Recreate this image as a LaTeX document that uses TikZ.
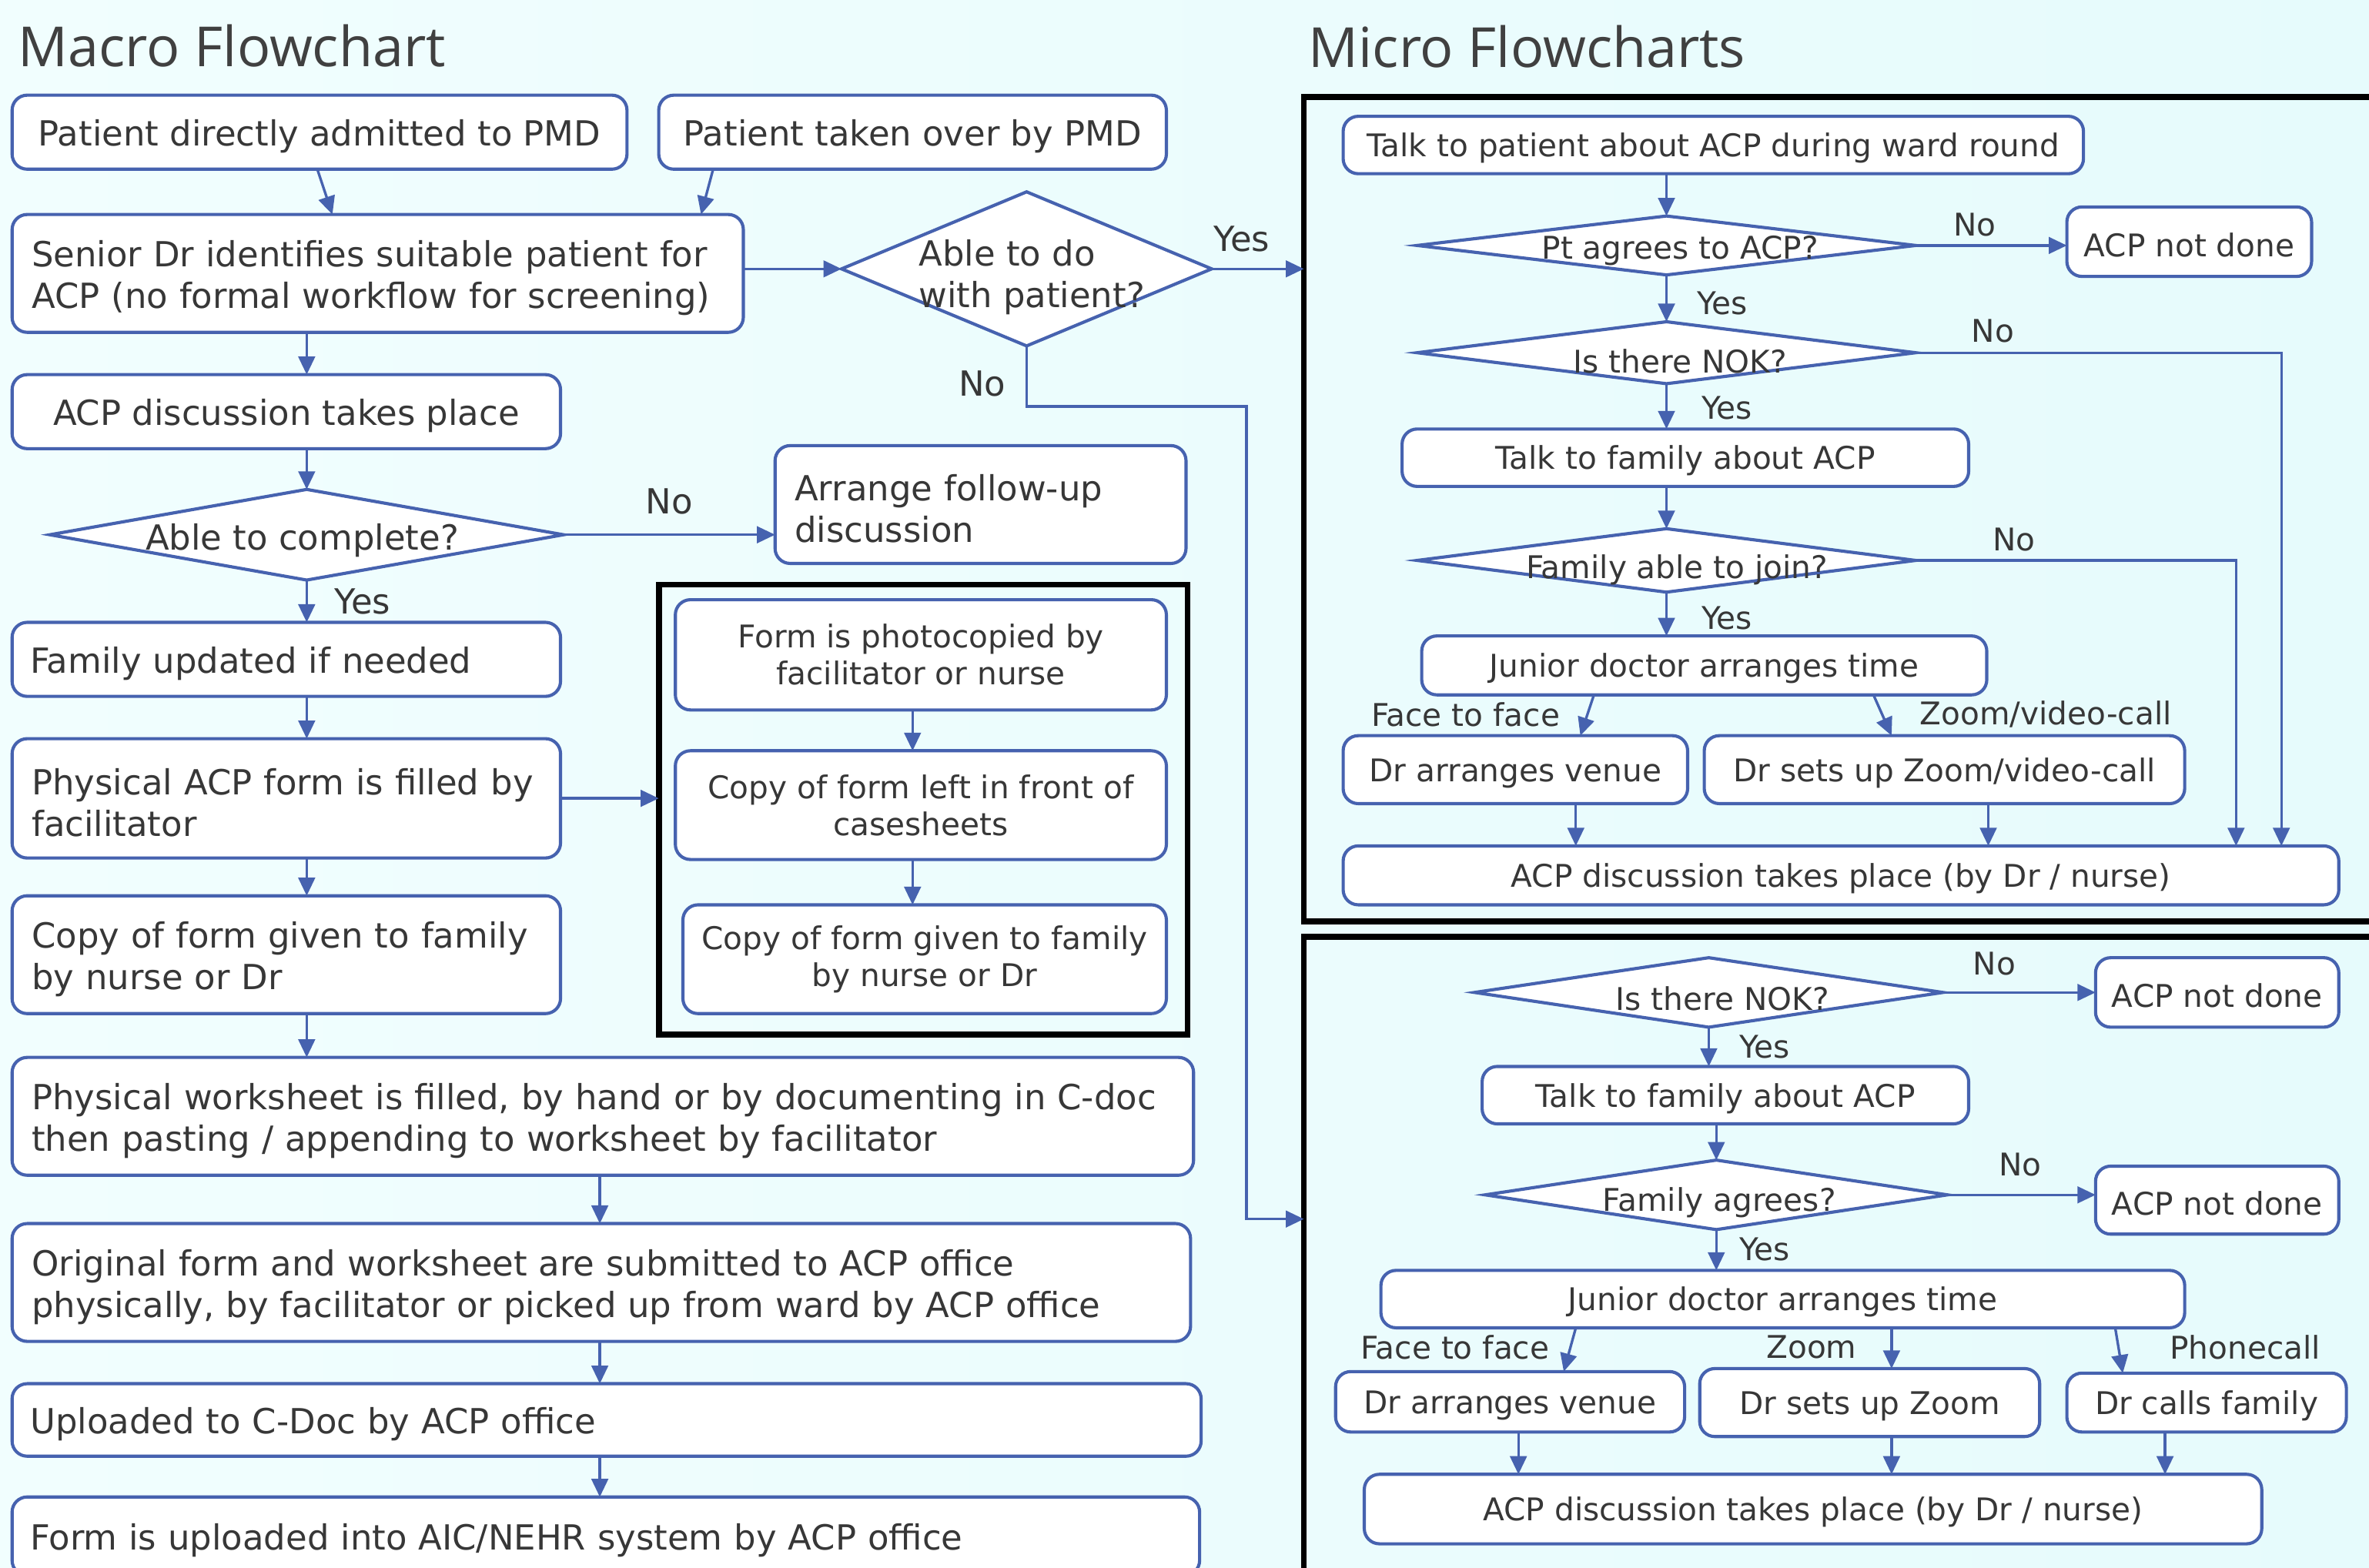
\documentclass[tikz,border=0pt]{standalone}
\usepackage{fontspec}
\setmainfont{DejaVu Sans}
\newfontfamily\ttlfam{Open Sans}
\usetikzlibrary{arrows.meta,shapes.geometric}
\definecolor{acpblue}{RGB}{70,98,175}
\definecolor{txtgray}{RGB}{55,55,55}
\definecolor{bgleft}{RGB}{241,254,254}
\definecolor{bgright}{RGB}{230,251,252}
\newcommand\macrotxt{\fontsize{22.9}{27.5}\selectfont}
\newcommand\microtxt{\fontsize{20.7}{24.5}\selectfont}
\newcommand\ttltxt{\ttlfam\fontsize{36.6}{40}\selectfont}
\newcommand\mstrut{\rule{0pt}{23.2pt}}
\newcommand\sstrut{\rule{0pt}{19.9pt}}
\begin{document}
\begin{tikzpicture}[x=1pt,y=-1pt,
  box/.style={draw=acpblue, line width=2.1pt, fill=white, rounded corners=10pt,
    text=txtgray, inner sep=0pt, outer sep=0pt},
  mbox/.style={box, font=\macrotxt, align=center, execute at begin node=\mstrut},
  sbox/.style={box, font=\microtxt, align=center, execute at begin node=\sstrut},
  lbox/.style={box, font=\macrotxt, align=left, execute at begin node=\mstrut},
  dia/.style={diamond, draw=acpblue, line width=2.1pt, fill=white, inner sep=0pt, outer sep=0pt},
  arr/.style={draw=acpblue, line width=1.7pt, -{Triangle[length=12pt,width=11pt]}},
  frm/.style={draw=black, line width=4pt, inner sep=0pt, outer sep=0pt},
  lbl/.style={text=txtgray, inner sep=0pt, font=\macrotxt},
  slbl/.style={text=txtgray, inner sep=0pt, font=\microtxt},
  ttl/.style={text={rgb,255:red,64;green,64;blue,64}, inner sep=0pt, font=\ttltxt, anchor=base west}
]
\useasboundingbox (0,0) rectangle (1568,1038);
\clip (0,0) rectangle (1568,1038);
\shade[left color=bgleft, right color=bgright] (0,0) rectangle (1568,1038);

% ---------- titles
\node[ttl] (tmacro) at (12,44) {Macro Flowchart};
\node[ttl] (tmicro) at (866,44.7) {Micro Flowcharts};

% ---------- macro flowchart
\node[mbox, minimum width=407pt, minimum height=49pt] (A) at (211.5,87.5) {Patient directly admitted to PMD};
\node[mbox, minimum width=336pt, minimum height=49pt] (B) at (604,87.5) {Patient taken over by PMD};
\node[lbox, minimum width=484pt, minimum height=78pt, text width=458pt] (C) at (250,181)
  {Senior Dr identifies suitable patient for\\ACP (no formal workflow for screening)};
\node[dia, minimum width=245pt, minimum height=102pt] (D) at (679.5,178) {};
\node[lbl, align=left, anchor=west] (Dt) at (608,183.5) {Able to do\\with patient?};
\node[mbox, minimum width=363pt, minimum height=49pt] (E) at (189.5,272.5) {ACP discussion takes place};
\node[dia, minimum width=340pt, minimum height=60pt] (F) at (203,354) {};
\node[lbl] (Ft) at (200,358) {Able to complete?};
\node[lbox, minimum width=272pt, minimum height=78pt, text width=246pt] (G) at (649,334)
  {Arrange follow-up\\discussion};
\node[lbox, minimum width=363pt, minimum height=49pt, text width=339pt] (H) at (189.5,436.5) {Family updated if needed};
\node[lbox, minimum width=363pt, minimum height=79pt, text width=337pt] (I) at (189.5,528.5)
  {Physical ACP form is filled by\\facilitator};
\node[lbox, minimum width=363pt, minimum height=78pt, text width=337pt] (N) at (189.5,632)
  {Copy of form given to family\\by nurse or Dr};
\node[lbox, minimum width=782pt, minimum height=78pt, text width=756pt] (O) at (399,739)
  {Physical worksheet is filled, by hand or by documenting in C-doc\\then pasting / appending to worksheet by facilitator};
\node[lbox, minimum width=780pt, minimum height=78pt, text width=754pt] (P) at (398,849)
  {Original form and worksheet are submitted to ACP office\\physically, by facilitator or picked up from ward by ACP office};
\node[lbox, minimum width=787pt, minimum height=48pt, text width=763pt] (Q) at (401.5,940) {Uploaded to C-Doc by ACP office};
\node[lbox, minimum width=786pt, minimum height=52pt, text width=762pt] (R) at (401,1017) {Form is uploaded into AIC/NEHR system by ACP office};

% black frame with copies
\node[frm, minimum width=350pt, minimum height=298pt] (J) at (611,536) {};
\node[sbox, minimum width=325pt, minimum height=73pt] (K) at (609.5,433.5) {Form is photocopied by\\facilitator or nurse};
\node[sbox, minimum width=325pt, minimum height=72pt] (L) at (609.5,533) {Copy of form left in front of\\casesheets};
\node[sbox, minimum width=320pt, minimum height=72pt] (M) at (612,635) {Copy of form given to family\\by nurse or Dr};

% macro labels
\node[lbl] (yesD) at (822,158) {Yes};
\node[lbl] (noD) at (650,254) {No};
\node[lbl] (noF) at (443,332) {No};
\node[lbl] (yesF) at (240,398) {Yes};

% ---------- micro frames
\node[frm, minimum width=727pt, minimum height=546pt] (f1) at (1226.5,337) {};
\node[frm, minimum width=727pt, minimum height=440pt] (f2) at (1226.5,840) {};

% frame 1
\node[sbox, minimum width=490pt, minimum height=38pt] (t1) at (1134,96) {Talk to patient about ACP during ward round};
\node[dia, minimum width=330pt, minimum height=39pt] (d1) at (1103,162.5) {};
\node[slbl] (d1t) at (1112,166) {Pt agrees to ACP?};
\node[sbox, minimum width=162pt, minimum height=46pt] (n1) at (1449,160) {ACP not done};
\node[dia, minimum width=330pt, minimum height=41pt] (d2) at (1103,233.5) {};
\node[slbl] (d2t) at (1112,239) {Is there NOK?};
\node[sbox, minimum width=375pt, minimum height=38pt] (t2) at (1115.5,303) {Talk to family about ACP};
\node[dia, minimum width=330pt, minimum height=42pt] (d3) at (1103,371) {};
\node[slbl] (d3t) at (1110,377) {Family able to join?};
\node[sbox, minimum width=374pt, minimum height=39pt] (j1) at (1128,440.5) {Junior doctor arranges time};
\node[sbox, minimum width=228pt, minimum height=45pt] (v1) at (1003,509.5) {Dr arranges venue};
\node[sbox, minimum width=318pt, minimum height=45pt] (z1) at (1287,509.5) {Dr sets up Zoom/video-call};
\node[sbox, minimum width=659pt, minimum height=39pt] (e1) at (1218.5,579.5) {ACP discussion takes place (by Dr / nurse)};

\node[slbl] (no1) at (1307,149) {No};
\node[slbl] (yes1) at (1140,201) {Yes};
\node[slbl] (no2) at (1319,219) {No};
\node[slbl] (yes2) at (1143,270) {Yes};
\node[slbl] (no3) at (1333,357) {No};
\node[slbl] (yes3) at (1143,409) {Yes};
\node[slbl] (ff1) at (970,473) {Face to face};
\node[slbl] (zv1) at (1354,473) {Zoom/video-call};

% frame 2
\node[dia, minimum width=310pt, minimum height=46pt] (d4) at (1131,657) {};
\node[slbl] (d4t) at (1140,661) {Is there NOK?};
\node[sbox, minimum width=161pt, minimum height=46pt] (n2) at (1467.5,657) {ACP not done};
\node[sbox, minimum width=322pt, minimum height=38pt] (t3) at (1142,725) {Talk to family about ACP};
\node[dia, minimum width=306pt, minimum height=46pt] (d5) at (1136,791) {};
\node[slbl] (d5t) at (1138,796) {Family agrees?};
\node[sbox, minimum width=161pt, minimum height=45pt] (n3) at (1467.5,794.5) {ACP not done};
\node[sbox, minimum width=532pt, minimum height=38pt] (j2) at (1180,860) {Junior doctor arranges time};
\node[sbox, minimum width=231pt, minimum height=40pt] (v2) at (999.5,928) {Dr arranges venue};
\node[sbox, minimum width=225pt, minimum height=45pt] (z2) at (1237.5,928.5) {Dr sets up Zoom};
\node[sbox, minimum width=185pt, minimum height=39pt] (c2) at (1460.5,928.5) {Dr calls family};
\node[sbox, minimum width=594pt, minimum height=46pt] (e2) at (1200,999) {ACP discussion takes place (by Dr / nurse)};

\node[slbl] (no4) at (1320,638) {No};
\node[slbl] (yes4) at (1168,693) {Yes};
\node[slbl] (no5) at (1337,771) {No};
\node[slbl] (yes5) at (1168,827) {Yes};
\node[slbl] (ff2) at (963,892) {Face to face};
\node[slbl] (zm2) at (1199,892) {Zoom};
\node[slbl] (ph2) at (1486,892) {Phonecall};

% ---------- macro connectors
\draw[arr] ([xshift=-1.5pt]A.south) -- ([xshift=-30pt]C.north);
\draw[arr] ([xshift=36pt]B.south west) -- ([xshift=-28pt]C.north east);
\draw[arr] (C.east |- D.west) -- (D.west);
\draw[arr] (D.east) -- (D.east -| f1.west);
\draw[arr] (D.south) |- (825,269) |- (f2.west |- 0,807);
\draw[arr] (C.south -| 203,0) -- (E.north -| 203,0);
\draw[arr] (E.south -| F.north) -- (F.north);
\draw[arr] (F.east) -- (G.west |- F.east);
\draw[arr] (F.south) -- (H.north -| F.south);
\draw[arr] (H.south -| 203,0) -- (I.north -| 203,0);
\draw[arr] (I.east) -- (J.west |- I.east);
\draw[arr] (I.south -| 203,0) -- (N.north -| 203,0);
\draw[arr] (N.south -| 203,0) -- (O.north -| 203,0);
\draw[arr] (O.south -| 397,0) -- (P.north -| 397,0);
\draw[arr] (P.south -| 397,0) -- (Q.north -| 397,0);
\draw[arr] (Q.south -| 397,0) -- (R.north -| 397,0);
\draw[arr] (K.south -| 604,0) -- (L.north -| 604,0);
\draw[arr] (L.south -| 604,0) -- (M.north -| 604,0);

% ---------- frame 1 connectors
\draw[arr] (t1.south -| d1.north) -- (d1.north);
\draw[arr] (d1.east) -- (n1.west |- d1.east);
\draw[arr] (d1.south) -- (d2.north);
\draw[arr] (d2.south) -- (t2.north -| d2.south);
\draw[arr] (d2.east) -| (e1.north -| 1510,0);
\draw[arr] (t2.south -| d3.north) -- (d3.north);
\draw[arr] (d3.east) -| (e1.north -| 1480,0);
\draw[arr] (d3.south) -- (j1.north -| d3.south);
\draw[arr] ([xshift=114pt]j1.south west) -- ([xshift=157pt]v1.north west);
\draw[arr] ([xshift=299pt]j1.south west) -- ([xshift=124pt]z1.north west);
\draw[arr] (v1.south -| 1043,0) -- (e1.north -| 1043,0);
\draw[arr] (z1.south -| 1316,0) -- (e1.north -| 1316,0);

% ---------- frame 2 connectors
\draw[arr] (d4.east) -- (n2.west |- d4.east);
\draw[arr] (d4.south) -- (t3.north -| d4.south);
\draw[arr] (t3.south -| d5.north) -- (d5.north);
\draw[arr] (d5.east) -- (n3.west |- d5.east);
\draw[arr] (d5.south) -- (j2.north -| d5.south);
\draw[arr] ([xshift=129pt]j2.south west) -- ([xshift=151pt]v2.north west);
\draw[arr] (j2.south -| 1252,0) -- (z2.north -| 1252,0);
\draw[arr] ([xshift=486pt]j2.south west) -- ([xshift=37pt]c2.north west);
\draw[arr] (v2.south -| 1005,0) -- (e2.north -| 1005,0);
\draw[arr] (z2.south -| 1252,0) -- (e2.north -| 1252,0);
\draw[arr] (c2.south -| 1433,0) -- (e2.north -| 1433,0);
\end{tikzpicture}
\end{document}
